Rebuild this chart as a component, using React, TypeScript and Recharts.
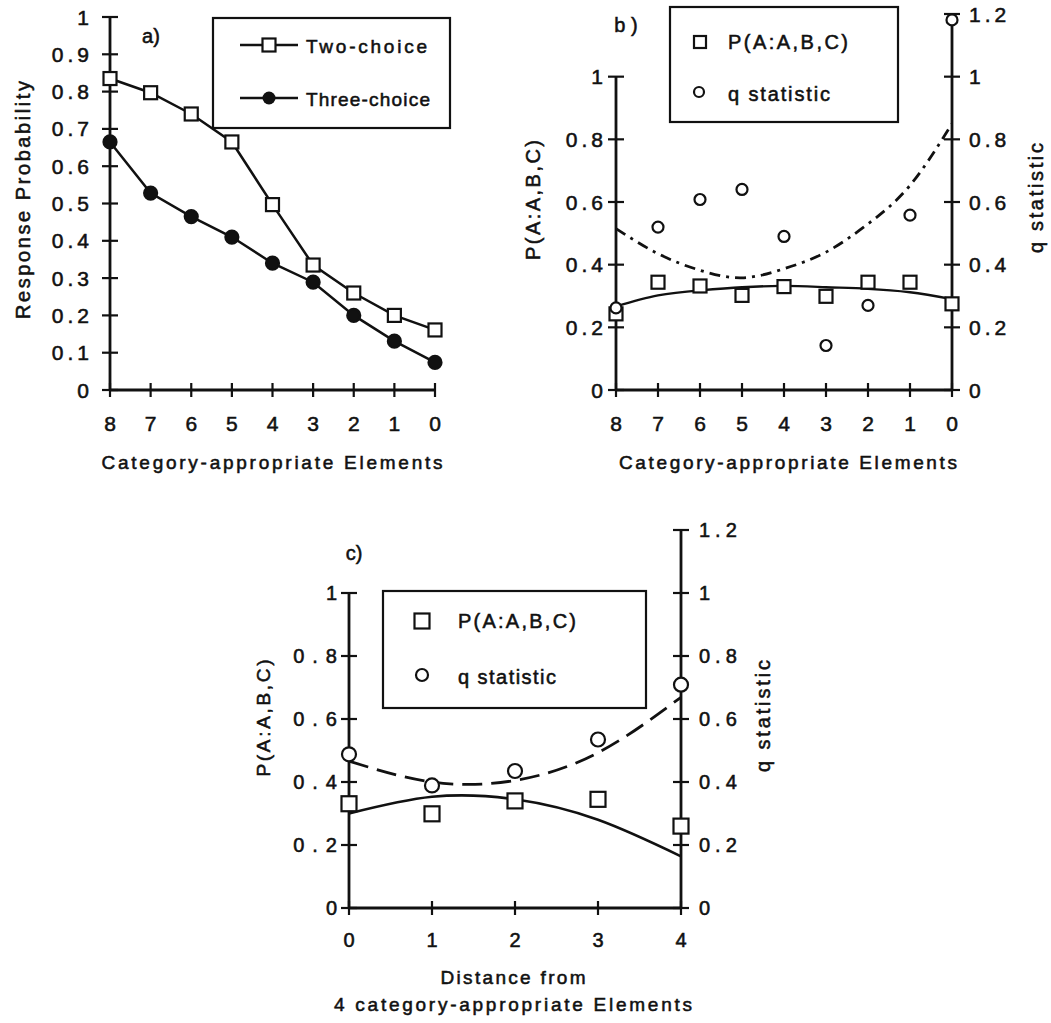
import React from "react";
import { ComposedChart, Line, XAxis, YAxis, ReferenceLine } from "recharts";

const FONT = '"Liberation Sans", Arial, Helvetica, sans-serif';
const INK = "#111";
const TEXT_STROKE = 0.55;

// a) response probability vs. number of category-appropriate elements
const elementCounts = [8, 7, 6, 5, 4, 3, 2, 1, 0];
const twoChoice = [0.835, 0.797, 0.74, 0.665, 0.497, 0.335, 0.26, 0.2, 0.161];
const threeChoice = [0.665, 0.528, 0.465, 0.41, 0.34, 0.289, 0.2, 0.131, 0.074];
const probTicks = [0, 0.1, 0.2, 0.3, 0.4, 0.5, 0.6, 0.7, 0.8, 0.9, 1];

// b) P(A:A,B,C) and q statistic, same x axis
const pabcB = [0.243, 0.344, 0.332, 0.302, 0.33, 0.299, 0.344, 0.344, 0.275];
const qStatB = [0.262, 0.52, 0.608, 0.64, 0.49, 0.142, 0.27, 0.558, 1.181];
const pabcFitB = [0.267, 0.302, 0.318, 0.328, 0.332, 0.328, 0.323, 0.312, 0.29];
const qFitB = [0.515, 0.435, 0.382, 0.358, 0.387, 0.44, 0.53, 0.653, 0.85];

// c) distance from 4 category-appropriate elements
const distances = [0, 1, 2, 3, 4];
const pabcC = [0.331, 0.299, 0.34, 0.345, 0.26];
const qStatC = [0.488, 0.389, 0.435, 0.535, 0.709];
const pabcFitC = [0.3, 0.353, 0.345, 0.28, 0.164];
const qFitC = [0.466, 0.4, 0.405, 0.493, 0.669];

const leftTicks = [0, 0.2, 0.4, 0.6, 0.8, 1];
const rightTicks = [0, 0.2, 0.4, 0.6, 0.8, 1, 1.2];

const rowsA = elementCounts.map((n, i) => ({ n, two: twoChoice[i], three: threeChoice[i] }));
const rowsB = elementCounts.map((n, i) => ({
  n,
  p: pabcB[i],
  q: qStatB[i],
  pFit: pabcFitB[i],
  qFit: qFitB[i],
}));
const rowsC = distances.map((n, i) => ({
  n,
  p: pabcC[i],
  q: qStatC[i],
  pFit: pabcFitC[i],
  qFit: qFitC[i],
}));

// ticks cross the axis line, labels drawn by hand
function yTick(side: "left" | "right", gap: number, fontSize: number, ls: number) {
  return (props: any) => {
    const { x, y, payload, index } = props;
    const tx = side === "left" ? x - gap + ls : x + gap;
    return (
      <g key={`yt-${side}-${index}`}>
        <line x1={x - 8} x2={x + 8} y1={y} y2={y} stroke={INK} strokeWidth={2.2} />
        <text
          x={tx}
          y={y + fontSize * 0.36}
          textAnchor={side === "left" ? "end" : "start"}
          fontSize={fontSize}
          fontFamily={FONT}
          fill={INK}
          stroke={INK}
          strokeWidth={TEXT_STROKE}
          style={{ letterSpacing: ls }}
        >
          {String(payload.value)}
        </text>
      </g>
    );
  };
}

function xTick(gap: number, fontSize: number) {
  return (props: any) => {
    const { x, y, payload, index } = props;
    return (
      <g key={`xt-${index}`}>
        <line x1={x} x2={x} y1={y - 7} y2={y + 7} stroke={INK} strokeWidth={2.2} />
        <text
          x={x}
          y={y + gap + fontSize * 0.36}
          textAnchor="middle"
          fontSize={fontSize}
          fontFamily={FONT}
          fill={INK}
          stroke={INK}
          strokeWidth={TEXT_STROKE}
        >
          {String(payload.value)}
        </text>
      </g>
    );
  };
}

function squareDot(size: number, prefix: string) {
  return (props: any) => {
    const { cx, cy, index } = props;
    if (cx == null || cy == null) return <g key={`${prefix}-${index}`} />;
    return (
      <rect
        key={`${prefix}-${index}`}
        x={cx - size / 2}
        y={cy - size / 2}
        width={size}
        height={size}
        fill="#fff"
        stroke={INK}
        strokeWidth={2.2}
      />
    );
  };
}

function circleDot(r: number, filled: boolean, prefix: string) {
  return (props: any) => {
    const { cx, cy, index } = props;
    if (cx == null || cy == null) return <g key={`${prefix}-${index}`} />;
    return (
      <circle
        key={`${prefix}-${index}`}
        cx={cx}
        cy={cy}
        r={r}
        fill={filled ? INK : "#fff"}
        stroke={INK}
        strokeWidth={2.2}
      />
    );
  };
}

type TxtProps = {
  x: number;
  y: number;
  text: string;
  size?: number;
  len?: number;
  anchor?: "start" | "middle" | "end";
  rotate?: boolean;
};

function Txt({ x, y, text, size = 20, len, anchor = "middle", rotate = false }: TxtProps) {
  return (
    <text
      x={x}
      y={y + size * 0.36}
      fontSize={size}
      fontFamily={FONT}
      fill={INK}
      stroke={INK}
      strokeWidth={TEXT_STROKE}
      textAnchor={anchor}
      textLength={len}
      lengthAdjust={len ? "spacing" : undefined}
      transform={rotate ? `rotate(-90 ${x} ${y})` : undefined}
    >
      {text}
    </text>
  );
}

const axisStroke = { stroke: INK, strokeWidth: 2.8 };

function PanelA() {
  return (
    <ComposedChart width={480} height={480} data={rowsA} margin={{ top: 17, right: 45, bottom: 50, left: 50 }}>
      <XAxis
        type="number"
        dataKey="n"
        domain={[0, 8]}
        ticks={elementCounts}
        reversed
        interval={0}
        height={40}
        tickSize={0}
        tickMargin={0}
        axisLine={axisStroke}
        tickLine={false}
        tick={xTick(33, 21)}
      />
      <YAxis
        domain={[0, 1]}
        ticks={probTicks}
        interval={0}
        width={60}
        tickSize={0}
        tickMargin={0}
        axisLine={axisStroke}
        tickLine={false}
        tick={yTick("left", 21, 21, 4)}
      />
      <Line
        type="linear"
        dataKey="two"
        stroke={INK}
        strokeWidth={2.5}
        dot={squareDot(13, "two")}
        activeDot={false}
        isAnimationActive={false}
      />
      <Line
        type="linear"
        dataKey="three"
        stroke={INK}
        strokeWidth={2.5}
        dot={circleDot(6.5, true, "three")}
        activeDot={false}
        isAnimationActive={false}
      />
    </ComposedChart>
  );
}

function PanelB() {
  return (
    <ComposedChart width={571} height={480} data={rowsB} margin={{ top: 14, right: 39, bottom: 50, left: 76 }}>
      <XAxis
        type="number"
        dataKey="n"
        domain={[0, 8]}
        ticks={elementCounts}
        reversed
        interval={0}
        height={40}
        tickSize={0}
        tickMargin={0}
        axisLine={axisStroke}
        tickLine={false}
        tick={xTick(33, 21)}
      />
      <YAxis
        yAxisId="l"
        domain={[0, 1.2]}
        ticks={leftTicks}
        interval={0}
        width={60}
        tickSize={0}
        tickMargin={0}
        axisLine={false}
        tickLine={false}
        tick={yTick("left", 13, 21, 4)}
      />
      <YAxis
        yAxisId="r"
        orientation="right"
        domain={[0, 1.2]}
        ticks={rightTicks}
        interval={0}
        width={60}
        tickSize={0}
        tickMargin={0}
        axisLine={axisStroke}
        tickLine={false}
        tick={yTick("right", 17, 21, 4)}
      />
      <ReferenceLine yAxisId="l" segment={[{ x: 8, y: 0 }, { x: 8, y: 1 }]} stroke={INK} strokeWidth={2.8} />
      <Line
        yAxisId="l"
        type="natural"
        dataKey="pFit"
        stroke={INK}
        strokeWidth={2.3}
        dot={false}
        activeDot={false}
        isAnimationActive={false}
      />
      <Line
        yAxisId="r"
        type="natural"
        dataKey="qFit"
        stroke={INK}
        strokeWidth={2.8}
        strokeDasharray="11 6 3 6"
        dot={false}
        activeDot={false}
        isAnimationActive={false}
      />
      <Line
        yAxisId="l"
        dataKey="p"
        stroke="none"
        dot={squareDot(13, "pb")}
        activeDot={false}
        isAnimationActive={false}
      />
      <Line
        yAxisId="r"
        dataKey="q"
        stroke="none"
        dot={circleDot(5.5, false, "qb")}
        activeDot={false}
        isAnimationActive={false}
      />
    </ComposedChart>
  );
}

function PanelC() {
  return (
    <ComposedChart width={520} height={543} data={rowsC} margin={{ top: 50, right: 29, bottom: 75, left: 39 }}>
      <XAxis
        type="number"
        dataKey="n"
        domain={[0, 4]}
        ticks={distances}
        interval={0}
        height={40}
        tickSize={0}
        tickMargin={0}
        axisLine={axisStroke}
        tickLine={false}
        tick={xTick(32, 20)}
      />
      <YAxis
        yAxisId="l"
        domain={[0, 1.2]}
        ticks={leftTicks}
        interval={0}
        width={60}
        tickSize={0}
        tickMargin={0}
        axisLine={false}
        tickLine={false}
        tick={yTick("left", 12, 20, 8)}
      />
      <YAxis
        yAxisId="r"
        orientation="right"
        domain={[0, 1.2]}
        ticks={rightTicks}
        interval={0}
        width={60}
        tickSize={0}
        tickMargin={0}
        axisLine={axisStroke}
        tickLine={false}
        tick={yTick("right", 18, 20, 5)}
      />
      <ReferenceLine yAxisId="l" segment={[{ x: 0, y: 0 }, { x: 0, y: 1 }]} stroke={INK} strokeWidth={2.8} />
      <Line
        yAxisId="l"
        type="natural"
        dataKey="pFit"
        stroke={INK}
        strokeWidth={2.6}
        dot={false}
        activeDot={false}
        isAnimationActive={false}
      />
      <Line
        yAxisId="r"
        type="natural"
        dataKey="qFit"
        stroke={INK}
        strokeWidth={2.8}
        strokeDasharray="20 9"
        dot={false}
        activeDot={false}
        isAnimationActive={false}
      />
      <Line
        yAxisId="l"
        dataKey="p"
        stroke="none"
        dot={squareDot(15, "pc")}
        activeDot={false}
        isAnimationActive={false}
      />
      <Line
        yAxisId="r"
        dataKey="q"
        stroke="none"
        dot={circleDot(7, false, "qc")}
        activeDot={false}
        isAnimationActive={false}
      />
    </ComposedChart>
  );
}

// legends, panel letters and axis titles
function Annotations() {
  return (
    <svg width={1051} height={1023} style={{ position: "absolute", left: 0, top: 0, pointerEvents: "none" }}>
      {/* a */}
      <Txt x={151} y={36} text="a)" size={20} />
      <rect x={213} y={18} width={237} height={110} fill="none" stroke={INK} strokeWidth={2.2} />
      <line x1={240} x2={298} y1={45} y2={45} stroke={INK} strokeWidth={2.5} />
      <rect x={262.5} y={38.5} width={13} height={13} fill="#fff" stroke={INK} strokeWidth={2.2} />
      <Txt x={306} y={46} text="Two-choice" size={19} len={121} anchor="start" />
      <line x1={240} x2={298} y1={98} y2={98} stroke={INK} strokeWidth={2.5} />
      <circle cx={269} cy={98} r={6.5} fill={INK} />
      <Txt x={306} y={99} text="Three-choice" size={19} len={124} anchor="start" />
      <Txt x={23} y={200} text="Response Probability" size={20} len={238} rotate />
      <Txt x={272} y={462} text="Category-appropriate Elements" size={19} len={341} />

      {/* b */}
      <Txt x={626} y={25} text="b )" size={20} />
      <rect x={670} y={7} width={228} height={115} fill="none" stroke={INK} strokeWidth={2.2} />
      <rect x={694} y={36} width={12} height={12} fill="#fff" stroke={INK} strokeWidth={2.2} />
      <Txt x={728} y={42} text="P(A:A,B,C)" size={20} len={120} anchor="start" />
      <circle cx={699} cy={92} r={5} fill="#fff" stroke={INK} strokeWidth={2.2} />
      <Txt x={728} y={94} text="q statistic" size={20} len={102} anchor="start" />
      <Txt x={533} y={200} text="P(A:A,B,C)" size={20} len={120} rotate />
      <Txt x={1036} y={198} text="q statistic" size={20} len={110} rotate />
      <Txt x={788} y={462} text="Category-appropriate Elements" size={19} len={338} />

      {/* c */}
      <Txt x={354} y={553} text="c)" size={20} />
      <rect x={383} y={591} width={263} height={117} fill="none" stroke={INK} strokeWidth={2.2} />
      <rect x={414.5} y={613.5} width={15} height={15} fill="#fff" stroke={INK} strokeWidth={2.2} />
      <Txt x={458} y={621} text="P(A:A,B,C)" size={20} len={118} anchor="start" />
      <circle cx={422} cy={675} r={6} fill="#fff" stroke={INK} strokeWidth={2.2} />
      <Txt x={458} y={677} text="q statistic" size={20} len={98} anchor="start" />
      <Txt x={263} y={718} text="P(A:A,B,C)" size={19} len={117} rotate />
      <Txt x={763} y={716} text="q statistic" size={20} len={112} rotate />
      <Txt x={513} y={977} text="Distance from" size={19} len={145} />
      <Txt x={513} y={1004} text="4 category-appropriate Elements" size={19} len={358} />
    </svg>
  );
}

export default function App() {
  return (
    <div
      style={{
        position: "absolute",
        left: 0,
        top: 0,
        width: 1051,
        height: 1023,
        background: "#fff",
        fontFamily: FONT,
      }}
    >
      <div style={{ position: "absolute", left: 0, top: 0 }}>
        <PanelA />
      </div>
      <div style={{ position: "absolute", left: 480, top: 0 }}>
        <PanelB />
      </div>
      <div style={{ position: "absolute", left: 250, top: 480 }}>
        <PanelC />
      </div>
      <Annotations />
    </div>
  );
}
